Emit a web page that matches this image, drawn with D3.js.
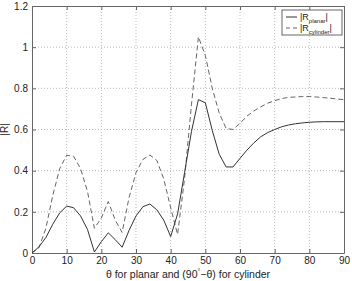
<!DOCTYPE html>
<html lang="en">
  <head>
    <meta charset="UTF-8" />
    <title>|R| vs theta</title>
    <script src="https://d3js.org/d3.v7.min.js"></script>
    <style>
      body { margin: 0; background: #fff; }
      text { font-family: "Liberation Sans", Arial, sans-serif; fill: #222; }
    </style>
  </head>
  <body>
    <div id="chart"></div>
    <script>
      // angle samples (degrees) and reflection magnitudes
      const theta = [0, 2, 4, 6, 8, 10, 12, 14, 16, 18, 20, 22, 24, 26, 28, 30,
        32, 34, 36, 38, 40, 42, 44, 46, 48, 50, 52, 54, 56, 58, 60, 62, 64, 66,
        68, 70, 72, 74, 76, 78, 80, 82, 84, 86, 88, 90];
      const rPlanar = [0, 0.03, 0.075, 0.14, 0.195, 0.228, 0.22, 0.18, 0.115,
        0.005, 0.055, 0.098, 0.065, 0.028, 0.11, 0.18, 0.225, 0.238, 0.21, 0.16,
        0.08, 0.19, 0.39, 0.59, 0.745, 0.73, 0.595, 0.48, 0.418, 0.418, 0.46,
        0.5, 0.535, 0.565, 0.585, 0.6, 0.613, 0.622, 0.628, 0.632, 0.635, 0.637,
        0.638, 0.638, 0.638, 0.638];
      const rCylinder = [0, 0.025, 0.12, 0.28, 0.41, 0.475, 0.47, 0.41, 0.3,
        0.12, 0.17, 0.25, 0.16, 0.1, 0.27, 0.39, 0.455, 0.476, 0.45, 0.36, 0.22,
        0.09, 0.36, 0.72, 1.05, 0.96, 0.8, 0.68, 0.605, 0.6, 0.63, 0.665, 0.69,
        0.71, 0.728, 0.74, 0.75, 0.756, 0.758, 0.76, 0.76, 0.758, 0.755, 0.752,
        0.748, 0.745];
      const xTicks = [0, 10, 20, 30, 40, 50, 60, 70, 80, 90];
      const yTicks = [0, 0.2, 0.4, 0.6, 0.8, 1, 1.2];

      var margin = { top: 6, right: 8, bottom: 28, left: 32 },
        width = 352 - margin.left - margin.right,
        height = 281 - margin.top - margin.bottom;

      var svg = d3
        .select("#chart")
        .append("svg")
        .attr("width", 352)
        .attr("height", 281)
        .append("g")
        .attr("transform", "translate(" + margin.left + "," + margin.top + ")");

      var x = d3.scaleLinear().domain([0, 90]).range([0, width]);
      var y = d3.scaleLinear().domain([0, 1.2]).range([height, 0]);

      // dotted grid
      svg.append("g")
        .selectAll("line")
        .data(xTicks.slice(1, -1))
        .join("line")
        .attr("x1", (d) => x(d)).attr("x2", (d) => x(d))
        .attr("y1", 0).attr("y2", height)
        .attr("stroke", "#bbb").attr("stroke-dasharray", "1,2");
      svg.append("g")
        .selectAll("line")
        .data(yTicks.slice(1, -1))
        .join("line")
        .attr("y1", (d) => y(d)).attr("y2", (d) => y(d))
        .attr("x1", 0).attr("x2", width)
        .attr("stroke", "#bbb").attr("stroke-dasharray", "1,2");

      // axes, ticks pointing inwards like matlab
      var fmt = (d) => String(d);
      var xAxis = svg.append("g")
        .attr("transform", "translate(0," + height + ")")
        .call(d3.axisBottom(x).tickValues(xTicks).tickFormat(fmt).tickSizeInner(-4).tickSizeOuter(0).tickPadding(4));
      var xTop = svg.append("g")
        .call(d3.axisTop(x).tickValues(xTicks).tickFormat("").tickSizeInner(-4).tickSizeOuter(0));
      var yAxis = svg.append("g")
        .call(d3.axisLeft(y).tickValues(yTicks).tickFormat(fmt).tickSizeInner(-4).tickSizeOuter(0).tickPadding(4));
      var yRight = svg.append("g")
        .attr("transform", "translate(" + width + ",0)")
        .call(d3.axisRight(y).tickValues(yTicks).tickFormat("").tickSizeInner(-4).tickSizeOuter(0));
      [xAxis, xTop, yAxis, yRight].forEach((g) => {
        g.selectAll("path").attr("stroke", "#666");
        g.selectAll("line").attr("stroke", "#666");
        g.selectAll("text").style("font-size", "10px").attr("fill", "#222");
      });

      // curves
      var pts = (arr) => theta.map((t, i) => [t, arr[i]]);
      var line = d3.line().x((d) => x(d[0])).y((d) => y(d[1]));

      svg.append("path")
        .datum(pts(rCylinder))
        .attr("d", line)
        .attr("fill", "none")
        .attr("stroke", "#666")
        .attr("stroke-width", 1)
        .attr("stroke-dasharray", "5,3");
      svg.append("path")
        .datum(pts(rPlanar))
        .attr("d", line)
        .attr("fill", "none")
        .attr("stroke", "#333")
        .attr("stroke-width", 1);

      // legend
      var legend = svg.append("g").attr("transform", "translate(" + (width - 62) + ",4)");
      legend.append("rect")
        .attr("width", 60).attr("height", 25)
        .attr("fill", "#fff").attr("stroke", "#666");
      var entries = [
        { name: "planar", dash: null, color: "#333" },
        { name: "cylinder", dash: "4,3", color: "#666" },
      ];
      entries.forEach((e, i) => {
        var cy = 7 + i * 11;
        legend.append("line")
          .attr("x1", 4).attr("x2", 15).attr("y1", cy).attr("y2", cy)
          .attr("stroke", e.color).attr("stroke-dasharray", e.dash);
        var t = legend.append("text").attr("x", 18).attr("y", cy + 3).style("font-size", "9px");
        t.append("tspan").text("|R");
        t.append("tspan").attr("dy", 2.5).style("font-size", "6px").text(e.name);
        t.append("tspan").attr("dy", -2.5).text("|");
      });

      // axis labels
      var xl = svg.append("text")
        .attr("x", width / 2).attr("y", height + 25)
        .attr("text-anchor", "middle")
        .style("font-size", "10.5px");
      xl.append("tspan").text("θ for planar and (90");
      xl.append("tspan").attr("dy", -4).style("font-size", "7px").text("°");
      xl.append("tspan").attr("dy", 4).text("−θ) for cylinder");

      svg.append("text")
        .attr("transform", "translate(-24," + y(0.6) + ") rotate(-90)")
        .attr("text-anchor", "middle")
        .style("font-size", "10px")
        .text("|R|");
    </script>
  </body>
</html>
